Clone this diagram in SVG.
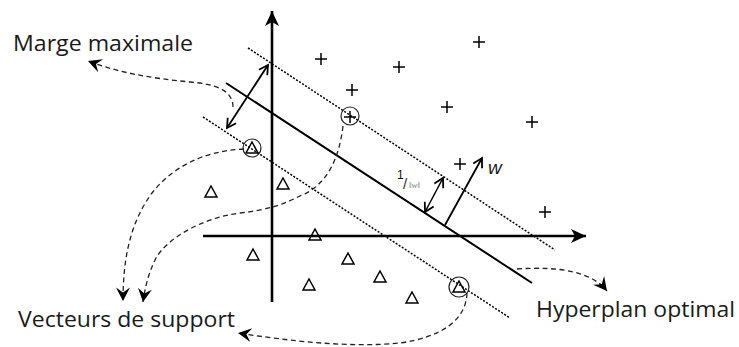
<svg xmlns="http://www.w3.org/2000/svg" width="739" height="347" viewBox="0 0 739 347">
<style>
.label{font-family:"Open Sans","Liberation Sans",sans-serif;font-size:21px;fill:#1a1a1a}
.axis{stroke:#000;stroke-width:2.6;fill:none}
.hyper{stroke:#000;stroke-width:2;fill:none}
.dot{stroke:#000;stroke-width:1.5;stroke-dasharray:2 1.6;fill:none}
.dash{stroke:#222;stroke-width:1.3;stroke-dasharray:5 3.5;fill:none}
.dbl{stroke:#000;stroke-width:1.8;fill:none}
.pt{stroke:#000;stroke-width:1.5;fill:none}
.ring{stroke:#222;stroke-width:1.2;fill:none}
</style>
<defs>
<marker id="axHead" markerUnits="userSpaceOnUse" viewBox="-16 -8 18 16" refX="0" refY="0" markerWidth="18" markerHeight="16" orient="auto">
<path d="M0,0 L-15,-7 L-11,0 L-15,7 Z" fill="#000"/>
</marker>
<marker id="openHead" markerUnits="userSpaceOnUse" viewBox="-12 -8 14 16" refX="0" refY="0" markerWidth="14" markerHeight="16" orient="auto-start-reverse">
<path d="M-9,-5 L0,0 L-9,5" fill="none" stroke="#000" stroke-width="1.8"/>
</marker>
<marker id="dHead" markerUnits="userSpaceOnUse" viewBox="-15 -8 17 16" refX="0" refY="0" markerWidth="17" markerHeight="16" orient="auto">
<path d="M0,0 L-13.5,-7 L-8.5,0 L-13.5,7 Z" fill="#000"/>
</marker>
<path id="plus" d="M-6,0 H6 M0,-6 V6" class="pt"/>
<path id="tri" d="M0,-6 L6,5 L-6,5 Z" class="pt"/>
</defs>

<g id="axes">
<line class="axis" x1="272" y1="302" x2="272" y2="11" marker-end="url(#axHead)"/>
<line class="axis" x1="203" y1="236" x2="586" y2="236" marker-end="url(#axHead)"/>
</g>

<g id="hyperplane">
<line class="hyper" x1="226" y1="83" x2="532" y2="283"/>
</g>
<g id="margin-lines">
<line class="dot" x1="248" y1="48" x2="555" y2="250"/>
<line class="dot" x1="203" y1="117" x2="510" y2="318"/>
</g>

<g id="vectors">
<line class="dbl" x1="268" y1="65" x2="227" y2="128" marker-start="url(#openHead)" marker-end="url(#openHead)"/>
<line class="dbl" x1="443" y1="178" x2="425" y2="212" marker-start="url(#openHead)" marker-end="url(#openHead)" style="stroke-width:1.5"/>
<line class="dbl" x1="445" y1="225" x2="482" y2="158" marker-end="url(#openHead)"/>
</g>

<g id="points-plus">
<use href="#plus" x="321" y="59"/>
<use href="#plus" x="352" y="90"/>
<use href="#plus" x="399" y="67"/>
<use href="#plus" x="479" y="42"/>
<use href="#plus" x="447" y="107"/>
<use href="#plus" x="532" y="122"/>
<use href="#plus" x="460" y="164"/>
<use href="#plus" x="545" y="212"/>
<use href="#plus" x="350" y="117"/>
<circle class="ring" cx="350" cy="116" r="9"/>
</g>

<g id="points-triangle">
<use href="#tri" x="211" y="192"/>
<use href="#tri" x="283" y="184"/>
<use href="#tri" x="315" y="235"/>
<use href="#tri" x="253" y="255"/>
<use href="#tri" x="348" y="259"/>
<use href="#tri" x="309" y="285"/>
<use href="#tri" x="380" y="277"/>
<use href="#tri" x="412" y="298"/>
<use href="#tri" x="252" y="148"/>
<circle class="ring" cx="252" cy="148" r="9"/>
<use href="#tri" x="459" y="287"/>
<circle class="ring" cx="459" cy="287" r="10"/>
</g>

<g id="connectors">
<path class="dash" d="M233,107 C233,90 215,84 190,82 C150,78 120,73 88,61" marker-end="url(#dHead)"/>
<path class="dash" d="M244,149 C200,151 170,170 152,193 C129,224 123,262 123,301" marker-end="url(#dHead)"/>
<path class="dash" d="M343,126 C339,160 326,186 300,196 C284,204 268,210 240,213 C200,218 166,240 156,258 C148,274 145,288 143,302" marker-end="url(#dHead)"/>
<path class="dash" d="M467,293 C466,320 442,337 400,343 C350,348 290,341 238,333" marker-end="url(#dHead)"/>
<path class="dash" d="M517,269 C560,266 592,272 607,291" marker-end="url(#dHead)"/>
</g>

<g id="labels">
<text class="label" x="13" y="51" textLength="180" lengthAdjust="spacingAndGlyphs">Marge maximale</text>
<text class="label" x="18" y="327" textLength="217" lengthAdjust="spacingAndGlyphs">Vecteurs de support</text>
<text class="label" x="536" y="317" textLength="199" lengthAdjust="spacingAndGlyphs">Hyperplan optimal</text>
<text x="488" y="174" style="font-family:'Liberation Sans',sans-serif;font-size:19px;font-style:italic;fill:#1a1a1a">w</text>
<text x="397" y="179" style="font-family:'Liberation Sans',sans-serif;font-size:12px;fill:#111">1</text>
<text x="403" y="189" style="font-family:'Liberation Sans',sans-serif;font-size:15px;fill:#333">/</text>
<text x="409" y="188" style="font-family:'Liberation Serif',serif;font-size:9px;fill:#777">‖<tspan font-style="italic">w</tspan>‖</text>
</g>
</svg>
